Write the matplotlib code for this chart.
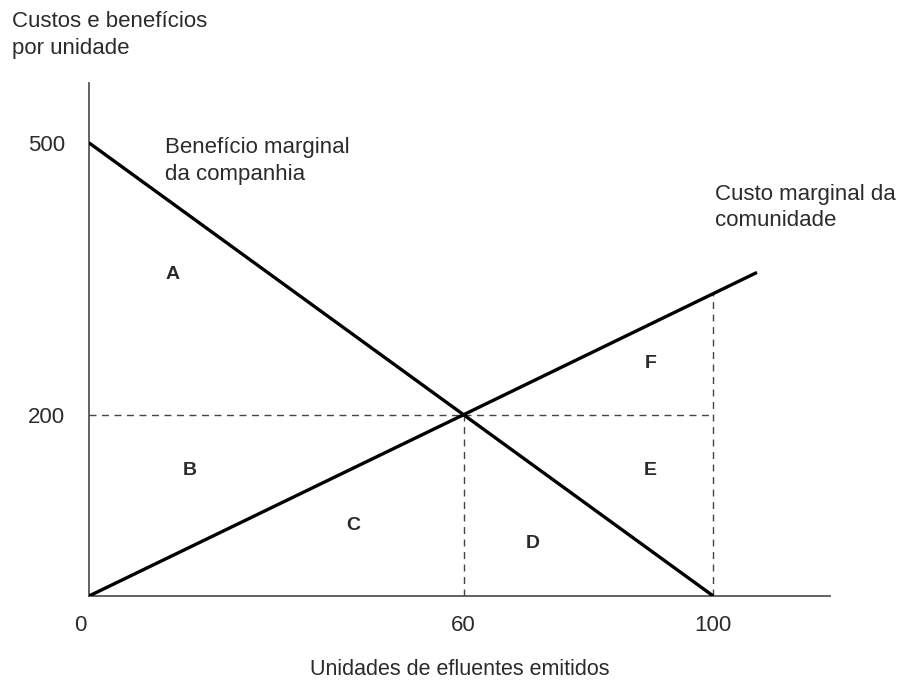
import matplotlib
matplotlib.use('Agg')
import matplotlib.pyplot as plt
from matplotlib.transforms import ScaledTranslation

# dados do diagrama
q_beneficio = [0, 60, 100]
beneficio = [500, 200, 0]
q_custo = [0, 60, 107]
custo = [0, 200, 357]
q_equilibrio = 60
p_equilibrio = 200
q_max = 100
custo_q_max = 333

regioes = ['A', 'B', 'C', 'D', 'E', 'F']
regioes_x = [13.4, 16.2, 42.3, 71.1, 89.9, 89.9]
regioes_y = [355, 139, 78, 58, 139, 256]

xticks = [0, 60, 100]
yticks = [200, 500]

plt.rcParams['font.family'] = ['Liberation Sans', 'DejaVu Sans']
cor_texto = '#2b2b2b'
fs = 16

fig = plt.figure(figsize=(8.97, 6.8), dpi=100)
ax = fig.add_axes([89 / 897, 84 / 680, 741 / 897, 513 / 680])

#curvas
ax.plot(q_beneficio, beneficio, color='black', linewidth=2.4, solid_capstyle='butt', zorder=3)
ax.plot(q_custo, custo, color='black', linewidth=2.4, solid_capstyle='butt', zorder=3)

#linhas tracejadas
tracejado = dict(color='#444444', linewidth=1.0, dashes=(5, 4), zorder=2)
ax.plot([0, q_max], [p_equilibrio, p_equilibrio], **tracejado)
ax.plot([q_equilibrio, q_equilibrio], [0, p_equilibrio], **tracejado)
ax.plot([q_max, q_max], [0, custo_q_max], **tracejado)

#letras das areas
for r, x, y in zip(regioes, regioes_x, regioes_y):
    ax.text(x, y, r, fontsize=14, fontweight='bold', color=cor_texto, ha='center', va='center')

ax.text(12.2, 506, 'Benefício marginal\nda companhia', fontsize=fs, color=cor_texto,
        ha='left', va='top', linespacing=1.35)
ax.text(100.3, 455, 'Custo marginal da\ncomunidade', fontsize=fs, color=cor_texto,
        ha='left', va='top', linespacing=1.35)

fig.text(12 / 897, 1 - 11 / 680, 'Custos e benefícios\npor unidade', fontsize=fs, color=cor_texto,
         ha='left', va='top', linespacing=1.35)

#eixos
ax.set_xlim(0, 118.7)
ax.set_ylim(0, 566)
for s in ['top', 'right']:
    ax.spines[s].set_visible(False)
for s in ['left', 'bottom']:
    ax.spines[s].set_color('#555555')
    ax.spines[s].set_linewidth(1.3)

ax.set_xticks(xticks)
ax.set_yticks(yticks)
ax.tick_params(axis='x', length=0, pad=14, labelsize=fs, labelcolor=cor_texto)
ax.tick_params(axis='y', length=0, pad=17, labelsize=fs, labelcolor=cor_texto)
ax.set_xlabel('Unidades de efluentes emitidos', fontsize=15.5, color=cor_texto, labelpad=16)

# o "0" fica um pouco a esquerda da origem
lbl0 = ax.get_xticklabels()[0]
lbl0.set_transform(lbl0.get_transform() + ScaledTranslation(-9 / 100, 0, fig.dpi_scale_trans))

fig.savefig('out.png', dpi=100)
